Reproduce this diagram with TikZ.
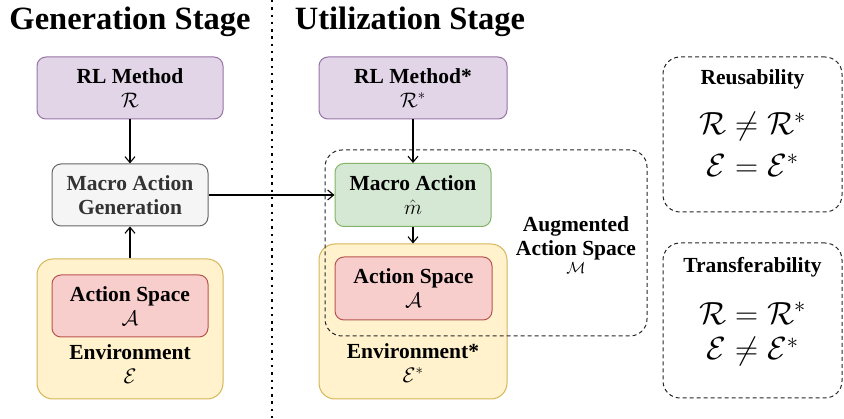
\RequirePackage{fix-cm}
\documentclass[tikz,border=0pt]{standalone}
\usepackage{fontspec}
\setmainfont{Liberation Serif}
\usetikzlibrary{arrows.meta}
\definecolor{purpleF}{HTML}{E1D5E7}\definecolor{purpleD}{HTML}{9673A6}
\definecolor{grayF}{HTML}{F5F5F5}\definecolor{grayD}{HTML}{666666}\definecolor{grayT}{HTML}{333333}
\definecolor{yellowF}{HTML}{FFF2CC}\definecolor{yellowD}{HTML}{D6B656}
\definecolor{redF}{HTML}{F8CECC}\definecolor{redD}{HTML}{B85450}
\definecolor{greenF}{HTML}{D5E8D4}\definecolor{greenD}{HTML}{82B366}
\newcommand{\nodefont}{\fontsize{21.5}{24}\selectfont\bfseries}
\newcommand{\nm}[1]{{\fontsize{21}{24}\selectfont$#1$}}
\begin{document}
\begin{tikzpicture}[x=1pt,y=-1pt,
  box/.style={draw,rounded corners=9pt,line width=1pt,align=center,inner sep=0pt,
    font=\nodefont},
  bigbox/.style={draw,rounded corners=16pt,line width=1pt,inner sep=0pt},
  dbox/.style={draw=black!85,dash pattern=on 4pt off 3pt,line width=1pt,rounded corners=17pt,inner sep=0pt},
  arr/.style={-{Straight Barb[length=6pt,width=10pt]},line width=1.1pt},
  title/.style={font=\fontsize{32.5}{36}\selectfont\bfseries},
  lbl/.style={font=\nodefont,align=center,inner sep=0pt},
  eq/.style={font=\fontsize{32}{36}\selectfont,inner sep=0pt}]
\useasboundingbox (0,0) rectangle (844,419);
% titles and divider
\node[title] (t1) at (130,22) {Generation Stage};
\node[title] (t2) at (410,22) {Utilization Stage};
\coordinate (d1) at (272,0);
\coordinate (d2) at (272,419);
\draw[line width=2.4pt,dash pattern=on 2.4pt off 4.9pt] (d1) -- (d2);
% generation stage
\node[box,fill=purpleF,draw=purpleD,minimum width=186pt,minimum height=62pt] (rl) at (130,88)
  {RL Method\\\nm{\mathcal{R}}};
\node[box,fill=grayF,draw=grayD,text=grayT,minimum width=156pt,minimum height=62pt] (mag) at (130,195)
  {Macro Action\\Generation};
\node[bigbox,fill=yellowF,draw=yellowD,minimum width=186pt,minimum height=140pt] (env) at (130,329) {};
\node[box,fill=redF,draw=redD,minimum width=156pt,minimum height=62pt] (as) at (130,306)
  {Action Space\\\nm{\mathcal{A}}};
\node[lbl] (envl) at (130,364) {Environment\\\nm{\mathcal{E}}};
\draw[arr] (rl) -- (mag);
\draw[arr] (env) -- (mag);
% utilization stage
\node[box,fill=purpleF,draw=purpleD,minimum width=188pt,minimum height=62pt] (rl2) at (413,88)
  {RL Method*\\\nm{\mathcal{R}^*}};
\node[bigbox,fill=yellowF,draw=yellowD,minimum width=188pt,minimum height=155pt] (env2) at (413,321.5) {};
\node[box,fill=redF,draw=redD,minimum width=157pt,minimum height=63pt] (as2) at (413.5,288.5)
  {Action Space\\\nm{\mathcal{A}}};
\node[lbl] (envl2) at (413,363) {Environment*\\\nm{\mathcal{E}^*}};
\node[dbox,minimum width=322pt,minimum height=186pt] (aug) at (486,243) {};
\node[box,fill=greenF,draw=greenD,minimum width=156pt,minimum height=63pt] (ma) at (413,195)
  {Macro Action\\\nm{\hat{m}}};
\node[lbl] (augl) at (576,245) {Augmented\\Action Space\\[-6pt]{\fontsize{16}{18}\selectfont$\mathcal{M}$}};
\draw[arr] (rl2) -- (ma);
\draw[arr] (ma) -- (env2);
\draw[arr] (mag.east) -- (ma.west);
% property boxes
\node[dbox,minimum width=179pt,minimum height=155pt] (reu) at (752.5,134.5) {};
\node[lbl] (reut) at (752.5,79) {Reusability};
\node[eq] (reu1) at (752.5,127) {$\mathcal{R}\neq\mathcal{R}^*$};
\node[eq] (reu2) at (752.5,165) {$\mathcal{E}=\mathcal{E}^*$};
\node[dbox,minimum width=179pt,minimum height=155pt] (tra) at (752.5,320.5) {};
\node[lbl] (trat) at (752.5,267) {Transferability};
\node[eq] (tra1) at (752.5,313) {$\mathcal{R}=\mathcal{R}^*$};
\node[eq] (tra2) at (752.5,352) {$\mathcal{E}\neq\mathcal{E}^*$};
\end{tikzpicture}
\end{document}
